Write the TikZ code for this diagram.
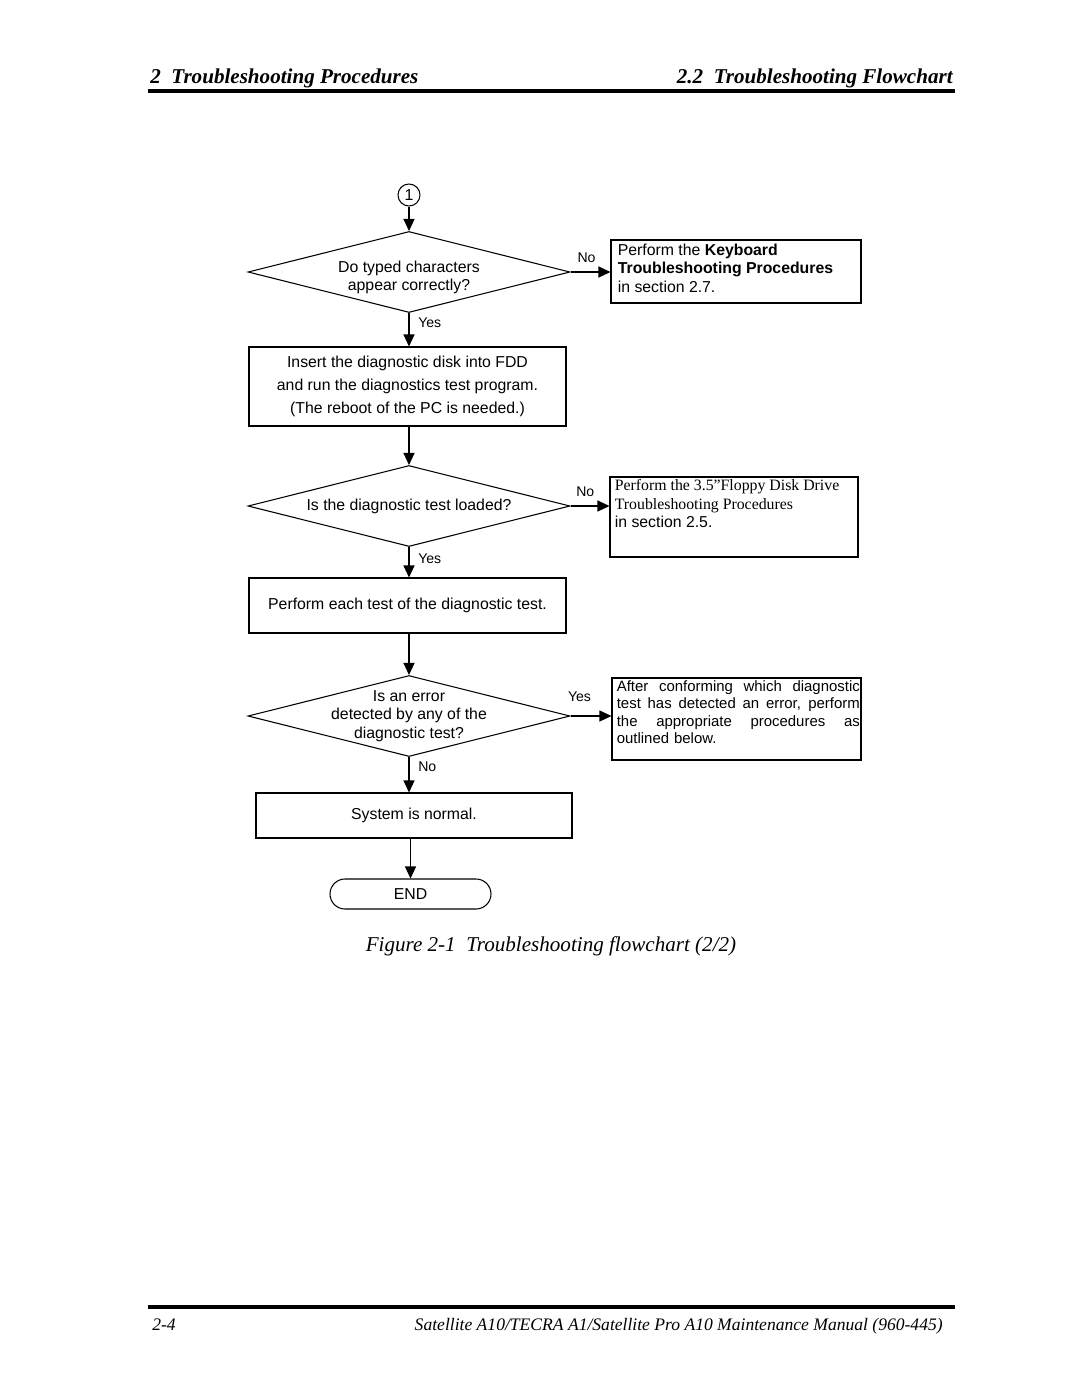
\documentclass[tikz,border=0pt]{standalone}
\usepackage{fontspec}
\setmainfont{Liberation Sans}
\newfontfamily\tnr{Liberation Serif}
\usetikzlibrary{shapes.geometric,arrows.meta}
\newcommand\jline[1]{\makebox[\linewidth][s]{\spaceskip=0pt\relax#1}}

\begin{document}
\begin{tikzpicture}[x=0.2mm,y=-0.2mm,
		every node/.style={font=\fontsize{9}{10.5}\selectfont},
		box/.style={draw,line width=0.6pt,inner sep=0pt},
		dec/.style={draw,diamond,line width=0.6pt,minimum width=64.4mm,minimum height=16.2mm,inner sep=0pt},
		txt/.style={anchor=north west,align=left,inner sep=0pt},
		arr/.style={line width=0.6pt,-{Triangle[length=2.4mm,width=2.2mm]}},
		lab/.style={font=\fontsize{8}{9}\selectfont,inner sep=0pt},
		hd/.style={font=\tnr\bfseries\itshape\fontsize{12}{14}\selectfont,inner sep=0pt},
		ft/.style={font=\tnr\itshape\fontsize{10}{12}\selectfont,inner sep=0pt}]
	\fill[white] (0,0) rectangle (1080,1397);
	\useasboundingbox (0,0) rectangle (1080,1397);
	\node[hd,anchor=base west] (hl) at (150,83) {2\enspace Troubleshooting Procedures};
	\node[hd,anchor=base east] (hr) at (953,83) {2.2\enspace Troubleshooting Flowchart};
	\foreach \y in {91,1307}
		\draw[line width=0.7mm] (148,\y) -- (955,\y);
	\node[ft,anchor=base west] (pg) at (152,1330) {2-4};
	\node[ft,anchor=base east] (mn) at (943,1330) {Satellite A10/TECRA A1/Satellite Pro A10 Maintenance Manual (960-445)};

	\node[draw,circle,line width=0.6pt,minimum size=4.4mm,inner sep=0pt] (c1) at (409,195) {1};
	\node[dec,label={[align=center,yshift=-3pt]center:Do typed characters\\appear correctly?}] (q1) at (409,272) {};
	\node[box,minimum width=50mm,minimum height=12.6mm] (r1) at (736,271.5) {};
	\node[txt] (r1t) at ([shift={(7,4)}]r1.north west) {Perform the \textbf{Keyboard}\\\textbf{Troubleshooting Procedures}\\in section 2.7.};
	\node[box,align=center,minimum width=63.4mm,minimum height=15.8mm,font=\fontsize{9}{13.3}\selectfont] (b1) at (407.5,386.5) {Insert the diagnostic disk into FDD\\and run the diagnostics test program.\\(The reboot of the PC is needed.)};
	\node[dec,label=center:Is the diagnostic test loaded?] (q2) at (409,506) {};
	\node[box,minimum width=49.6mm,minimum height=16mm] (r2) at (734,517) {};
	\node[txt] (r2t) at ([shift={(5,3)}]r2.north west) {{\tnr Perform the 3.5”Floppy Disk Drive}\\{\tnr Troubleshooting Procedures}\\in section 2.5.};
	\node[box,minimum width=63.4mm,minimum height=11mm] (b2) at (407.5,605.5) {Perform each test of the diagnostic test.};
	\node[dec,label={[align=center]center:Is an error\\detected by any of the\\diagnostic test?}] (q3) at (409,716) {};
	\node[box,minimum width=49.8mm,minimum height=16.4mm] (r3) at (736.5,719) {};
	\node[txt,text width=48.6mm,font=\fontsize{8.5}{9.8}\selectfont] (r3t) at ([shift={(5,3)}]r3.north west) {\jline{After conforming which diagnostic}\\\jline{test has detected an error, perform}\\\jline{the appropriate procedures as}\\outlined below.};
	\node[box,minimum width=63.2mm,minimum height=9mm] (b3) at (414,815.5) {System is normal.};
	\node[draw,line width=0.6pt,rounded corners=3mm,minimum width=32.2mm,minimum height=6mm] (e) at (410.5,894) {END};

	\draw[arr] (c1) -- (q1);
	\draw[arr] (q1.east) -- (q1.east -| r1.west) node[lab,pos=0.4,above=5pt] {No};
	\draw[arr] (q1.south) -- (q1.south |- b1.north) node[lab,pos=0.3,right=5pt] {Yes};
	\draw[arr] (b1.south -| q2.north) -- (q2.north);
	\draw[arr] (q2.east) -- (q2.east -| r2.west) node[lab,pos=0.38,above=5pt] {No};
	\draw[arr] (q2.south) -- (q2.south |- b2.north) node[lab,pos=0.4,right=5pt] {Yes};
	\draw[arr] (b2.south -| q3.north) -- (q3.north);
	\draw[arr] (q3.east) -- (q3.east -| r3.west) node[lab,pos=0.22,above=8pt] {Yes};
	\draw[arr] (q3.south) -- (q3.south |- b3.north) node[lab,pos=0.27,right=5pt] {No};
	\draw[arr] (e.north |- b3.south) -- (e.north);

	\node[font=\tnr\itshape\fontsize{12}{14}\selectfont] (cap) at (551,946) {Figure 2-1\enspace Troubleshooting flowchart (2/2)};
\end{tikzpicture}
\end{document}
